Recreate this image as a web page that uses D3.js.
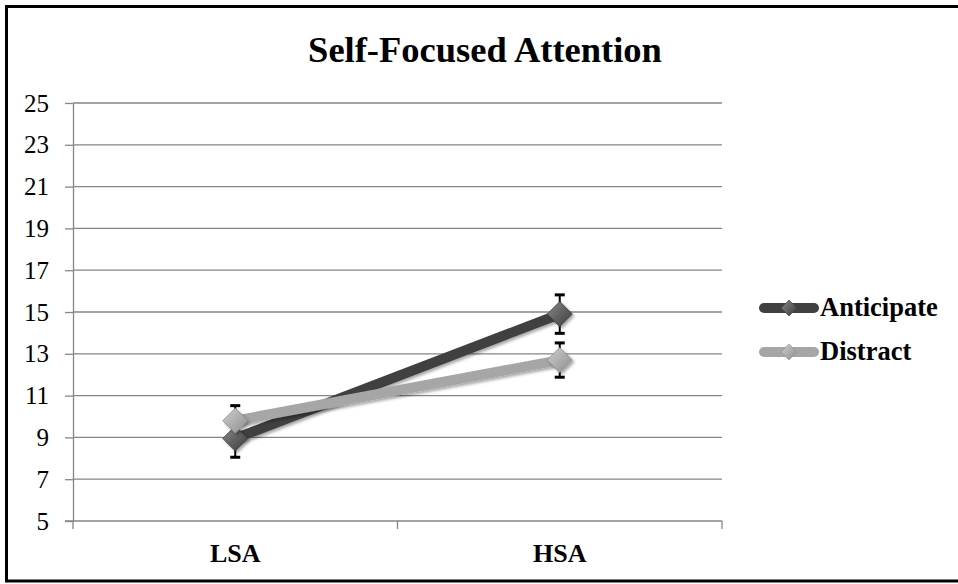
<!DOCTYPE html>
<html>
<head>
<meta charset="utf-8">
<script src="https://cdn.jsdelivr.net/npm/d3@7"></script>
<style>
  html, body { margin: 0; padding: 0; background: #fff; }
  svg { display: block; }
</style>
</head>
<body>
<svg id="chart" width="958" height="584"></svg>
<script>
// Group means and standard errors for self-focused attention
const categories = ["LSA", "HSA"];
const seriesNames = ["Anticipate", "Distract"];
const anticipateValues = [8.95, 14.9];
const anticipateErrors = [0.9, 0.92];
const distractValues = [9.8, 12.7];
const distractErrors = [0.72, 0.82];
const yTicks = [5, 7, 9, 11, 13, 15, 17, 19, 21, 23, 25];
const titleText = "Self-Focused Attention";

const FONT = "'Times New Roman', 'Liberation Serif', Tinos, 'DejaVu Serif', serif";

const series = [
  { name: seriesNames[0], values: anticipateValues, errors: anticipateErrors,
    line: "#404040", light: "#8a8a8a", dark: "#3a3a3a" },
  { name: seriesNames[1], values: distractValues, errors: distractErrors,
    line: "#a6a6a6", light: "#d0d0d0", dark: "#8c8c8c" }
];

const svg = d3.select("#chart").attr("font-family", FONT).style("font-family", FONT);
const W = 958, H = 584;
const plot = { left: 73, right: 722, top: 103, bottom: 521 };

// Frame around the whole chart
svg.append("path")
  .attr("d", `M6.5,${H - 3} L6.5,6.5 L${W},6.5 M5,${H - 3} L${W},${H - 3}`)
  .attr("fill", "none").attr("stroke", "#000").attr("stroke-width", 3);

const defs = svg.append("defs");
series.forEach((s, i) => {
  const g = defs.append("linearGradient").attr("id", "grad" + i)
    .attr("x1", "0").attr("y1", "0").attr("x2", "1").attr("y2", "1");
  g.append("stop").attr("offset", "0").attr("stop-color", s.light);
  g.append("stop").attr("offset", "1").attr("stop-color", s.dark);
});
const shadow = defs.append("filter").attr("id", "shadow")
  .attr("x", "-50%").attr("y", "-50%").attr("width", "200%").attr("height", "200%");
shadow.append("feDropShadow").attr("dx", 2).attr("dy", 2).attr("stdDeviation", 1.5)
  .attr("flood-color", "#000").attr("flood-opacity", 0.35);

const x = d3.scaleBand().domain(categories).range([plot.left, plot.right]);
const y = d3.scaleLinear().domain([5, 25]).range([plot.bottom, plot.top]);

// Horizontal gridlines and y axis
const yAxis = d3.axisLeft(y).tickValues(yTicks).tickSize(8).tickSizeOuter(0).tickPadding(16);
const yg = svg.append("g").attr("transform", `translate(${plot.left},0)`).call(yAxis)
  .attr("font-family", FONT);
yg.select(".domain").attr("stroke", "#868686").attr("stroke-width", 1.3);
yg.selectAll(".tick line").attr("stroke", "#868686").attr("stroke-width", 1.3);
yg.selectAll(".tick text").style("font-family", FONT)
  .style("font-size", "25px").attr("fill", "#000");

svg.append("g").selectAll("line.grid").data(yTicks.filter(t => t > 5)).join("line")
  .attr("x1", plot.left).attr("x2", plot.right)
  .attr("y1", d => y(d)).attr("y2", d => y(d))
  .attr("stroke", "#868686").attr("stroke-width", 1.3);

// Category axis with boundary ticks
const xAxisG = svg.append("g").attr("transform", `translate(0,${plot.bottom})`);
xAxisG.append("line").attr("x1", plot.left - 8).attr("x2", plot.right)
  .attr("stroke", "#868686").attr("stroke-width", 1.3);
const bounds = [plot.left, ...categories.map(c => x(c) + x.bandwidth())];
xAxisG.selectAll("line.b").data(bounds).join("line")
  .attr("x1", d => d).attr("x2", d => d).attr("y1", 0).attr("y2", 8)
  .attr("stroke", "#868686").attr("stroke-width", 1.3);
xAxisG.selectAll("text").data(categories).join("text")
  .attr("x", d => x(d) + x.bandwidth() / 2).attr("y", 41)
  .attr("text-anchor", "middle").style("font-family", FONT)
  .style("font-size", "26px").style("font-weight", "bold")
  .text(d => d);

// Title
svg.append("text").attr("x", 485).attr("y", 62).attr("text-anchor", "middle")
  .style("font-family", FONT)
  .style("font-size", "36.5px").style("font-weight", "bold").text(titleText);

const cx = c => x(c) + x.bandwidth() / 2;
const line = d3.line().x(d => cx(d.c)).y(d => y(d.v));

// Series lines
series.forEach(s => {
  const pts = categories.map((c, i) => ({ c, v: s.values[i] }));
  svg.append("path").datum(pts).attr("d", line)
    .attr("fill", "none").attr("stroke", s.line).attr("stroke-width", 10)
    .attr("filter", "url(#shadow)");
});

// Error bars
series.forEach(s => {
  const g = svg.append("g");
  categories.forEach((c, i) => {
    const lo = y(s.values[i] - s.errors[i]), hi = y(s.values[i] + s.errors[i]);
    g.append("line").attr("x1", cx(c)).attr("x2", cx(c)).attr("y1", lo).attr("y2", hi)
      .attr("stroke", "#000").attr("stroke-width", 2);
    [lo, hi].forEach(yy => g.append("line")
      .attr("x1", cx(c) - 5).attr("x2", cx(c) + 5).attr("y1", yy).attr("y2", yy)
      .attr("stroke", "#000").attr("stroke-width", 3));
  });
});

// Diamond markers
const diamond = (r) => `M0,${-r} L${r},0 L0,${r} L${-r},0 Z`;
series.forEach((s, si) => {
  svg.append("g").selectAll("path").data(categories).join("path")
    .attr("transform", (c, i) => `translate(${cx(c)},${y(s.values[i])})`)
    .attr("d", diamond(12.5))
    .attr("fill", `url(#grad${si})`)
    .attr("stroke", s.dark).attr("stroke-width", 0.8)
    .attr("filter", "url(#shadow)");
});

// Legend
const legend = svg.append("g");
series.forEach((s, i) => {
  const ly = 308 + i * 44;
  legend.append("line").attr("x1", 764).attr("x2", 814).attr("y1", ly).attr("y2", ly)
    .attr("stroke", s.line).attr("stroke-width", 10).attr("stroke-linecap", "round");
  legend.append("path").attr("transform", `translate(789,${ly})`).attr("d", diamond(8))
    .attr("fill", `url(#grad${i})`).attr("stroke", s.dark).attr("stroke-width", 0.6);
  legend.append("text").attr("x", 820).attr("y", ly + 8)
    .style("font-family", FONT)
    .style("font-size", "26.5px").style("font-weight", "bold").text(s.name);
});
</script>
</body>
</html>
